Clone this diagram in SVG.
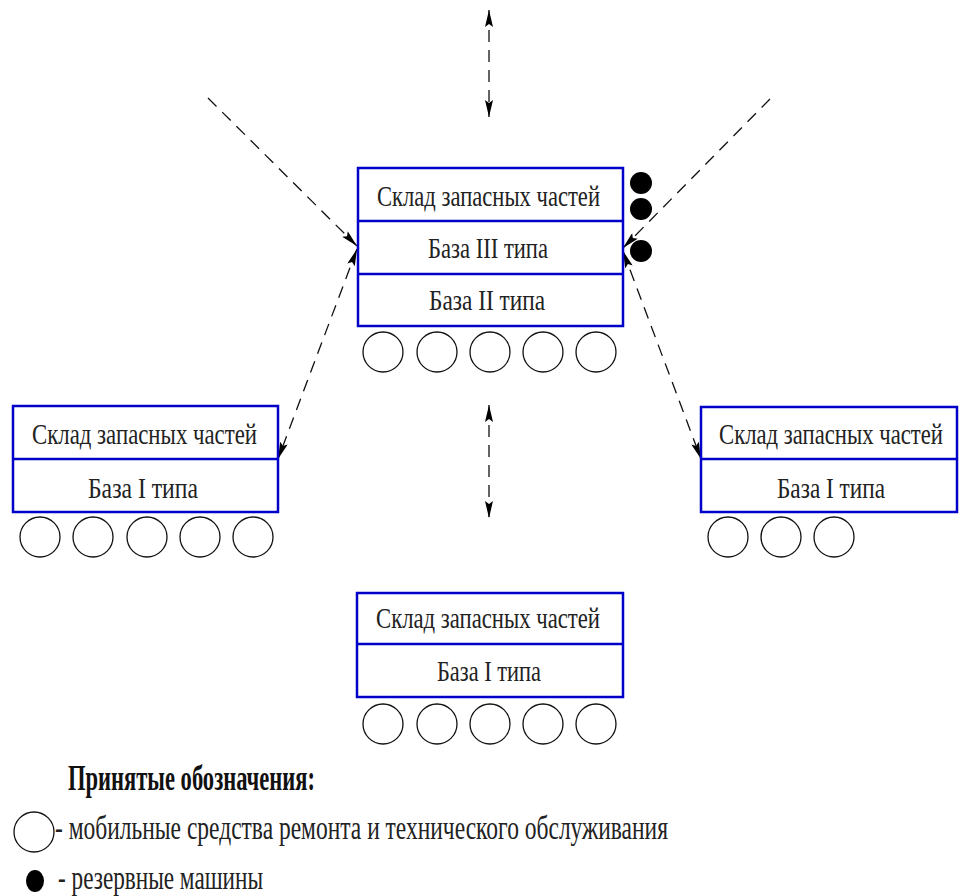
<svg xmlns="http://www.w3.org/2000/svg" width="960" height="896" viewBox="0 0 960 896">
  <defs>
    <style>
      .box { fill: #ffffff; stroke: #0000c8; stroke-width: 2.5; }
      .sep { stroke: #0000c8; stroke-width: 2.5; }
      .lbl { font-family: "Liberation Serif", "Times New Roman", serif; font-size: 22px; fill: #222222; }
      .leg { font-family: "Liberation Serif", "Times New Roman", serif; font-size: 23px; fill: #222222; }
      .legh { font-family: "Liberation Serif", "Times New Roman", serif; font-size: 23px; font-weight: bold; fill: #111111; }
      .unit { fill: none; stroke: #111111; stroke-width: 1.3; }
      .spare { fill: #000000; }
      .link { fill: none; stroke: #111111; stroke-width: 1.3; stroke-dasharray: 12 8; }
    </style>
    <marker id="ah" viewBox="0 0 17 8" refX="17" refY="4" markerWidth="17" markerHeight="8" markerUnits="userSpaceOnUse" orient="auto-start-reverse">
      <path d="M0,0 L17,4 L0,8 L3,4 z" fill="#000000"/>
    </marker>
  </defs>
  <rect width="960" height="896" fill="#ffffff"/>

  <!-- connectors -->
  <g id="connectors">
    <line class="link" x1="489" y1="10" x2="489" y2="117" marker-start="url(#ah)" marker-end="url(#ah)"/>
    <line class="link" x1="489" y1="405" x2="489" y2="518" marker-start="url(#ah)" marker-end="url(#ah)"/>
    <line class="link" x1="208" y1="98" x2="357" y2="246" marker-end="url(#ah)"/>
    <line class="link" x1="770" y1="99" x2="623" y2="248" marker-end="url(#ah)"/>
    <line class="link" x1="357" y1="249" x2="278" y2="459" marker-start="url(#ah)" marker-end="url(#ah)"/>
    <line class="link" x1="623" y1="251" x2="701" y2="459" marker-start="url(#ah)" marker-end="url(#ah)"/>
  </g>

  <!-- central base: types III and II (labels are set in a tall, narrow face) -->
  <g id="base-central">
    <rect class="box" x="358" y="168" width="265" height="158"/>
    <line class="sep" x1="358" y1="221" x2="623" y2="221"/>
    <line class="sep" x1="358" y1="274" x2="623" y2="274"/>
    <text class="lbl" transform="translate(377 206) scale(1 1.37)" textLength="223" lengthAdjust="spacingAndGlyphs">Склад запасных частей</text>
    <text class="lbl" transform="translate(428 258) scale(1 1.37)" textLength="120" lengthAdjust="spacingAndGlyphs">База III типа</text>
    <text class="lbl" transform="translate(429 310) scale(1 1.37)" textLength="116" lengthAdjust="spacingAndGlyphs">База II типа</text>
    <circle class="unit" cx="383" cy="352" r="20"/>
    <circle class="unit" cx="437" cy="352" r="20"/>
    <circle class="unit" cx="490" cy="352" r="20"/>
    <circle class="unit" cx="543" cy="352" r="20"/>
    <circle class="unit" cx="596" cy="352" r="20"/>
    <circle class="spare" cx="641" cy="183" r="11"/>
    <circle class="spare" cx="641" cy="209" r="11"/>
    <circle class="spare" cx="641" cy="251" r="11"/>
  </g>

  <!-- left base: type I -->
  <g id="base-left">
    <rect class="box" x="13" y="406" width="265" height="106"/>
    <line class="sep" x1="13" y1="459" x2="278" y2="459"/>
    <text class="lbl" transform="translate(32 444) scale(1 1.37)" textLength="225" lengthAdjust="spacingAndGlyphs">Склад запасных частей</text>
    <text class="lbl" transform="translate(88 498) scale(1 1.37)" textLength="110" lengthAdjust="spacingAndGlyphs">База I типа</text>
    <circle class="unit" cx="40" cy="537" r="20"/>
    <circle class="unit" cx="93" cy="537" r="20"/>
    <circle class="unit" cx="147" cy="537" r="20"/>
    <circle class="unit" cx="200" cy="537" r="20"/>
    <circle class="unit" cx="253" cy="537" r="20"/>
  </g>

  <!-- right base: type I -->
  <g id="base-right">
    <rect class="box" x="701" y="407" width="256" height="105"/>
    <line class="sep" x1="701" y1="459" x2="957" y2="459"/>
    <text class="lbl" transform="translate(719 444) scale(1 1.37)" textLength="224" lengthAdjust="spacingAndGlyphs">Склад запасных частей</text>
    <text class="lbl" transform="translate(777 498) scale(1 1.37)" textLength="108" lengthAdjust="spacingAndGlyphs">База I типа</text>
    <circle class="unit" cx="728" cy="537" r="20"/>
    <circle class="unit" cx="781" cy="537" r="20"/>
    <circle class="unit" cx="834" cy="537" r="20"/>
  </g>

  <!-- bottom base: type I -->
  <g id="base-bottom">
    <rect class="box" x="357" y="593" width="266" height="104"/>
    <line class="sep" x1="357" y1="644" x2="623" y2="644"/>
    <text class="lbl" transform="translate(376 628) scale(1 1.37)" textLength="224" lengthAdjust="spacingAndGlyphs">Склад запасных частей</text>
    <text class="lbl" transform="translate(437 681) scale(1 1.37)" textLength="104" lengthAdjust="spacingAndGlyphs">База I типа</text>
    <circle class="unit" cx="383" cy="724" r="20"/>
    <circle class="unit" cx="437" cy="724" r="20"/>
    <circle class="unit" cx="490" cy="724" r="20"/>
    <circle class="unit" cx="543" cy="724" r="20"/>
    <circle class="unit" cx="596" cy="724" r="20"/>
  </g>

  <!-- legend -->
  <g id="legend">
    <text class="legh" transform="translate(68 790) scale(1 1.55)" textLength="247" lengthAdjust="spacingAndGlyphs">Принятые обозначения:</text>
    <circle class="unit" cx="34" cy="832" r="20"/>
    <text class="leg" transform="translate(55 839) scale(1 1.5)" textLength="613" lengthAdjust="spacingAndGlyphs">- мобильные средства ремонта и технического обслуживания</text>
    <ellipse class="spare" cx="35" cy="881" rx="9" ry="11"/>
    <text class="leg" transform="translate(58 889) scale(1 1.5)" textLength="205" lengthAdjust="spacingAndGlyphs">- резервные машины</text>
  </g>
</svg>
